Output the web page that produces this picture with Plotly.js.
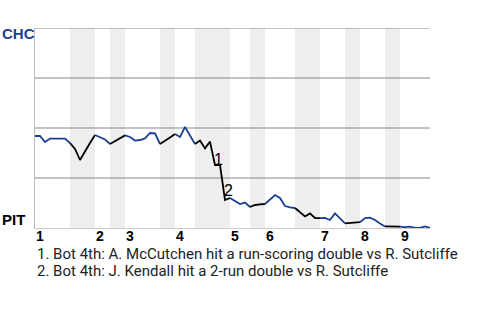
<!DOCTYPE html>
<html>
<head>
<meta charset="utf-8">
<script src="https://cdn.plot.ly/plotly-3.0.1.min.js"></script>
<style>html,body{margin:0;padding:0;background:#fff;}#chart{width:480px;height:320px;}</style>
</head>
<body>
<div id="chart"></div>
<script>
// CHC win probability (%) after each play, play index 0..79
const winProb = [46,46,43,44.7,44.7,44.7,44.7,42.5,39.5,34,
  38.5,42.5,46.5,45.5,44.3,42,43.5,45,46.3,45.5,
  43.7,44,44.8,47.5,47.3,42,43.5,45.3,47,45.5,
  50.5,46.5,42,43.7,39.8,43.2,31.5,31.5,14,15,
  13.5,12,12.7,10.5,11.5,11.8,12,14.5,16.5,15,
  11,10.3,10,8,5.8,7.3,5,4.9,5,4,
  7.3,4.8,2.3,2.5,2.8,2.9,5,5.2,4,2.3,
  0.8,0.8,0.8,0.7,0.4,0.7,0.1,0.1,0.8,0];
// half-inning start play indices (top 1, bot 1, top 2, ...), last = end of game
const halfStarts = [0,7,12,15,18,25,28,32,39,43,46,52,57,62,65,70,73,79];
const inningLabels = ['1','2','3','4','5','6','7','8','9'];
const teams = ['CHC','PIT'];
const notes = [
  '1. Bot 4th: A. McCutchen hit a run-scoring double vs R. Sutcliffe',
  '2. Bot 4th: J. Kendall hit a 2-run double vs R. Sutcliffe'
];
const noteMarks = [{label:'1', play:36.6, prob:34.5}, {label:'2', play:38.7, prob:19}];

const navy = '#1c3f94';
const boldFont = 'Liberation Sans, Arial, sans-serif';
const xs = winProb.map((_, i) => i);
const traces = [];
const shapes = [];
for (let h = 0; h < halfStarts.length - 1; h++) {
  const s = halfStarts[h], e = halfStarts[h+1];
  const bottom = h % 2 === 1;
  traces.push({
    x: xs.slice(s, e+1), y: winProb.slice(s, e+1),
    type: 'scatter', mode: 'lines', hoverinfo: 'skip', showlegend: false,
    line: {color: bottom ? '#000000' : navy, width: 1.8}
  });
  if (bottom) {
    shapes.push({type:'rect', xref:'x', yref:'y', x0:s, x1:e, y0:0, y1:100,
      fillcolor:'#eeeeee', line:{width:0}, layer:'below'});
  }
}
[25,50,75,100].forEach(v => shapes.push({type:'line', xref:'x', yref:'y', x0:0, x1:79, y0:v, y1:v,
  line:{color:'#888888', width:1}, layer:'below'}));

const annotations = [];
inningLabels.forEach((t, k) => annotations.push({
  text: t, x: halfStarts[2*k], xref:'x', y: -0.04, yref:'paper',
  xanchor:'left', yanchor:'middle', showarrow:false, borderpad:0,
  font:{family:boldFont, size:14, color:'#000', weight:'bold'}
}));
annotations.push({text:teams[0], x:-0.086, xref:'paper', y:0.975, yref:'paper', xanchor:'left', yanchor:'middle',
  showarrow:false, borderpad:0, font:{family:boldFont, size:15, color:navy, weight:'bold'}});
annotations.push({text:teams[1], x:-0.086, xref:'paper', y:0.045, yref:'paper', xanchor:'left', yanchor:'middle',
  showarrow:false, borderpad:0, font:{family:boldFont, size:15, color:'#000', weight:'bold'}});
notes.forEach((t, k) => annotations.push({
  text: t, x: 0.003, xref:'paper', y: k === 0 ? -0.13 : -0.213, yref:'paper',
  xanchor:'left', yanchor:'middle', showarrow:false, borderpad:0,
  font:{family:'Roboto, sans-serif', size:15, color:'#222'}
}));
noteMarks.forEach(m => annotations.push({
  text: m.label, x: m.play, xref:'x', y: m.prob, yref:'y', xanchor:'center', yanchor:'middle',
  showarrow:false, borderpad:0, font:{family:boldFont, size:16, color:'#000'}
}));

const layout = {
  width: 480, height: 320,
  margin: {l:35, r:50, t:28, b:92, pad:0},
  paper_bgcolor:'#fff', plot_bgcolor:'#fff',
  showlegend:false,
  xaxis: {range:[0,79], showgrid:false, zeroline:false, showticklabels:false, ticks:'',
    showline:true, linecolor:'#cccccc', linewidth:1},
  yaxis: {range:[0,100], showgrid:false, zeroline:false, showticklabels:false, ticks:'',
    showline:true, linecolor:'#bbbbbb', linewidth:1},
  shapes: shapes,
  annotations: annotations
};
Plotly.newPlot('chart', traces, layout, {staticPlot:true, displayModeBar:false});
</script>
</body>
</html>
